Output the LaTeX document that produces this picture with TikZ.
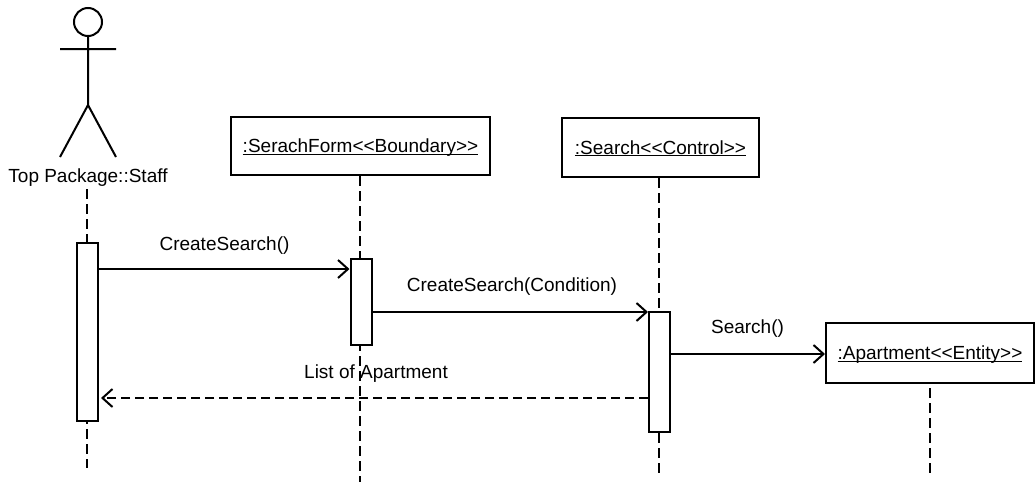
\documentclass[tikz,border=0pt]{standalone}
\usepackage{fontspec}
\setmainfont{Liberation Sans}
\usetikzlibrary{arrows.meta}
\newcommand{\objname}[1]{\rule{0pt}{15pt}$\underline{\smash{\hbox{#1}}}$}
\tikzset{
  object/.style={draw,line width=2pt,fill=white,inner sep=0pt,minimum height=58pt,font=\fontsize{19}{22}\selectfont},
  bar/.style={draw,line width=2pt,fill=white,inner sep=0pt,minimum width=21pt},
  label/.style={inner sep=0pt,font=\fontsize{19}{22}\selectfont},
  lifeline/.style={line width=1.6pt,dash pattern=on 10pt off 5pt},
  msg/.style={->,line width=2pt},
  reply/.style={->,line width=2pt,dash pattern=on 9pt off 5pt}
}
\begin{document}
\begin{tikzpicture}[>={Straight Barb[length=10pt,width=18pt]},x=1pt,y=-1pt]
  \useasboundingbox (0,0) rectangle (1036,482);

  \node[draw,circle,line width=2pt,minimum size=28pt,inner sep=0pt] (head) at (88,22) {};
  \coordinate (hip) at (88,105);
  \coordinate (armL) at (60,49);
  \coordinate (armR) at (116,49);
  \coordinate (footL) at (60,157);
  \coordinate (footR) at (116,157);
  \node[label] (staff) at (88,178) {Top Package::Staff};

  \node[object,minimum width=259pt] (form) at (360.5,146) {\objname{:SerachForm<{}<Boundary>{}>}};
  \node[object,minimum width=197pt,minimum height=59pt] (search) at (660.5,147.5) {\objname{:Search<{}<Control>{}>}};
  \node[object,minimum width=208pt,minimum height=60pt] (apartment) at (930,353) {\objname{:Apartment<{}<Entity>{}>}};

  \coordinate (staffend) at (87,468);
  \coordinate (formend) at (360,482);
  \coordinate (searchend) at (659,473);
  \coordinate (apartmentend) at (930,477);

  \draw[line width=2pt] (head) -- (hip) -- (footL) (hip) -- (footR) (armL) -- (armR);

  \draw[lifeline] ([yshift=-2pt]staff.south -| staffend) -- (staffend);
  \draw[lifeline] (form.south -| formend) -- (formend);
  \draw[lifeline] (search.south -| searchend) -- (searchend);
  \draw[lifeline] ([yshift=-4pt]apartment.south -| apartmentend) -- (apartmentend);

  \node[bar,minimum height=178pt] (staffbar) at (87.5,332) {};
  \node[bar,minimum height=86pt] (formbar) at (361,302) {};
  \node[bar,minimum height=120pt] (searchbar) at (659.5,372) {};

  \path[msg]
    (staffbar.east |- 0,269) edge (formbar.west |- 0,269)
    (formbar.east |- 0,312) edge (searchbar.west |- 0,312)
    (searchbar.east |- 0,354) edge (apartment.west |- 0,354);
  \draw[reply] (searchbar.west |- 0,398) -- ([xshift=2pt]staffbar.east |- 0,398);

  \node[label] (create) at (224.5,246) {CreateSearch()};
  \node[label] (createcond) at (512,287) {CreateSearch(Condition)};
  \node[label] (searchmsg) at (747.5,329) {Search()};
  \node[label] (list) at (376,374) {List of Apartment};
\end{tikzpicture}
\end{document}
